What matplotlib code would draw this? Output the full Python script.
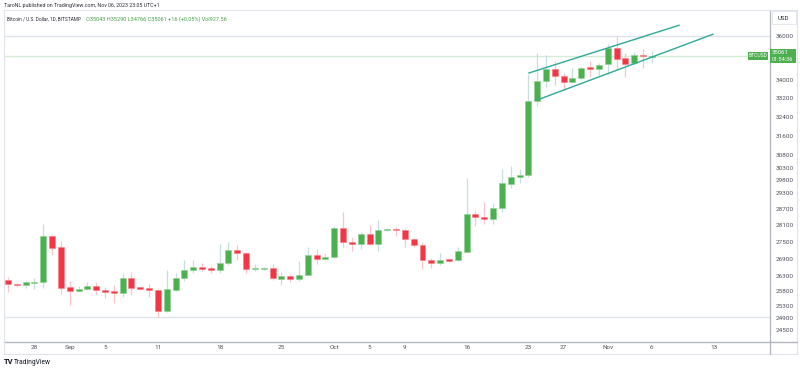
import numpy as np
import pandas as pd
import matplotlib
matplotlib.use("Agg")
import matplotlib.pyplot as plt
import matplotlib.dates as mdates
from matplotlib.lines import Line2D
from matplotlib.patches import Rectangle
from matplotlib.ticker import FixedLocator, FuncFormatter, NullLocator

plt.rcParams['font.family'] = ['Roboto', 'DejaVu Sans']

# ---------------- data ----------------
start_date = "2023-08-25"
opens = [26157, 26029, 25988, 26063, 26088, 27719, 27302, 25909, 25794, 25841,
         25953, 25817, 25774, 25727, 26236, 25909, 25885, 25827, 25127, 25817,
         26215, 26502, 26596, 26560, 26513, 26746, 27206, 27110, 26537, 26548,
         26572, 26202, 26285, 26181, 26340, 27017, 26897, 26946, 27988, 27503,
         27409, 27781, 27409, 27936, 27962, 27936, 27590, 27384, 26862, 26736,
         26876, 26841, 27145, 28518, 28405, 28319, 28731, 29672, 29921, 30011,
         33076, 33928, 34492, 34150, 33897, 34088, 34569, 34492, 34692, 35440,
         34964, 34736, 35130, 35043]
highs = [26271, 26070, 26133, 26215, 28136, 27740, 27526, 26123, 25963, 26098,
         26088, 25930, 25987, 26410, 26433, 25930, 26018, 25861, 26502, 26388,
         26852, 26852, 26736, 26641, 27420, 27481, 27384, 27134, 26711, 26617,
         26711, 26444, 26364, 26827, 27302, 27231, 27088, 28073, 28593, 27661,
         27865, 28123, 28295, 28010, 28025, 27962, 27646, 27481, 26911, 27088,
         26911, 27302, 29893, 28641, 28981, 28920, 30237, 30379, 30237, 34254,
         35194, 35130, 34830, 34285, 34510, 34582, 34857, 34765, 35625, 36000,
         35194, 35268, 35394, 35290]
lows = [25760, 25936, 25885, 25851, 25896, 27027, 25693, 25315, 25750, 25817,
        25638, 25538, 25372, 25592, 25649, 25841, 25592, 24911, 25100, 25784,
        26133, 26410, 26478, 26410, 26388, 26676, 26852, 26388, 26478, 26502,
        26157, 25987, 26098, 26133, 26319, 26711, 26876, 26911, 27323, 27170,
        27231, 27384, 27181, 27899, 27719, 27302, 27323, 26527, 26560, 26676,
        26792, 26816, 27145, 28084, 28147, 28147, 28602, 29493, 29687, 29944,
        32848, 33688, 33763, 33545, 33866, 33986, 34106, 34133, 34209, 34435,
        34133, 34660, 34510, 34766]
closes = [26018, 25988, 26077, 26098, 27719, 27287, 25896, 25774, 25851, 25953,
          25807, 25760, 25727, 26236, 25896, 25851, 25817, 25127, 25841, 26215,
          26513, 26596, 26537, 26502, 26757, 27195, 27110, 26548, 26582, 26572,
          26226, 26285, 26181, 26340, 27017, 26886, 26946, 27988, 27481, 27430,
          27781, 27409, 27936, 27973, 27914, 27590, 27384, 26852, 26736, 26862,
          26827, 27170, 28518, 28394, 28319, 28731, 29687, 29921, 30023, 33076,
          33928, 34492, 34164, 33911, 34088, 34537, 34492, 34660, 35440, 34932,
          34717, 35102, 35056, 35061]

ytick_values = [36000, 34000, 33200, 32400, 31600, 30800, 30300, 29800, 29300,
                28700, 28100, 27500, 26900, 26300, 25800, 25300, 24900, 24500]
xtick_dates = ["2023-08-28", "2023-09-01", "2023-09-05", "2023-09-11", "2023-09-18",
               "2023-09-25", "2023-10-01", "2023-10-05", "2023-10-09", "2023-10-16",
               "2023-10-23", "2023-10-27", "2023-11-01", "2023-11-06", "2023-11-13"]
xtick_labels = ["28", "Sep", "5", "11", "18", "25", "Oct", "5", "9", "16",
                "23", "27", "Nov", "6", "13"]

# drawings (trend channel + horizontal levels)
channel_upper_dates = ["2023-10-23 00:00", "2023-11-09 04:00"]
channel_upper_prices = [34290, 36520]
channel_lower_dates = ["2023-10-24 00:00", "2023-11-13 00:00"]
channel_lower_prices = [33107, 36094]
hline_levels = [36000, 24920]
last_price = 35061

title_line = "TaroNL published on TradingView.com, Nov 06, 2023 23:05 UTC+1"
legend_name = "Bitcoin / U.S. Dollar, 1D, BITSTAMP"
legend_vals = "O35043 H35290 L34766 C35061 +16 (+0.05%) Vol927.56"

# ---------------- figure ----------------
W, H = 800, 370
fig = plt.figure(figsize=(W / 100, H / 100), dpi=100)
fig.patch.set_facecolor("white")

def fx(px):
    return px / W

def fy(py):
    return 1 - py / H

ax_left, ax_right, ax_top, ax_bottom = 4, 770, 10, 342
ax = fig.add_axes([fx(ax_left), fy(ax_bottom), fx(ax_right - ax_left),
                   (ax_bottom - ax_top) / H])
ax.set_facecolor("white")

dates = pd.date_range(start_date, periods=len(opens), freq="D")
xd = mdates.date2num(dates)
o = np.array(opens, float)
h = np.array(highs, float)
l = np.array(lows, float)
c = np.array(closes, float)
up = c >= o

green = "#4caf50"
red = "#f23645"
green_wick = "#c5dfe0"
red_wick = "#f9c5ca"

ax.set_yscale("log")
ax.set_ylim(24120, 37246)
ax.set_xlim(xd[0] - 0.45, xd[0] + 86.4)

for lvl in hline_levels:
    ax.axhline(lvl, color="#e0e3eb", lw=1.0, zorder=1)
ax.plot([ax.get_xlim()[0], xd[0] + 84.0], [last_price, last_price],
        color="#d4ecd5", lw=1.0, zorder=1)

ax.vlines(xd[up], l[up], h[up], color=green_wick, lw=0.9, zorder=2)
ax.vlines(xd[~up], l[~up], h[~up], color=red_wick, lw=0.9, zorder=2)

bw = 0.68
for xi, oi, ci, u in zip(xd, o, c, up):
    lo, hi = min(oi, ci), max(oi, ci)
    if hi / lo < 1.0012:
        mid = np.sqrt(lo * hi)
        lo, hi = mid / 1.0006, mid * 1.0006
    ax.add_patch(Rectangle((xi - bw / 2, lo), bw, hi - lo,
                           facecolor=green if u else red,
                           edgecolor="#8fd093" if u else "#f87c87",
                           lw=0.4, zorder=3))

teal = "#2ea897"
ax.plot(mdates.date2num(pd.to_datetime(channel_upper_dates)), channel_upper_prices,
        color=teal, lw=1.0, zorder=4, solid_capstyle="butt")
ax.plot(mdates.date2num(pd.to_datetime(channel_lower_dates)), channel_lower_prices,
        color=teal, lw=1.0, zorder=4, solid_capstyle="butt")

for s in ["top", "left"]:
    ax.spines[s].set_visible(False)
ax.spines["right"].set_color("#b2b5be")
ax.spines["right"].set_linewidth(0.9)
ax.spines["bottom"].set_color("#b2b5be")
ax.spines["bottom"].set_linewidth(1.0)

ax.yaxis.tick_right()
ax.yaxis.set_major_locator(FixedLocator(ytick_values))
ax.yaxis.set_minor_locator(NullLocator())
ax.yaxis.set_major_formatter(FuncFormatter(lambda v, p: f"{int(round(v))}"))
ax.tick_params(axis="y", which="both", length=0, pad=4.3, labelsize=4.6,
               labelcolor="#50535e")

ax.set_xticks(mdates.date2num(pd.to_datetime(xtick_dates)))
ax.set_xticklabels(xtick_labels)
ax.tick_params(axis="x", length=0, pad=2.5, labelsize=4.6, labelcolor="#50535e")

frame_col = "#e0e3eb"
fig.add_artist(Line2D([fx(4), fx(4)], [fy(10), fy(354)], color=frame_col, lw=0.8))
fig.add_artist(Line2D([fx(4), fx(797)], [fy(354), fy(354)], color=frame_col, lw=0.8))
fig.add_artist(Line2D([fx(797), fx(797)], [fy(10), fy(354)], color=frame_col, lw=0.8))
fig.add_artist(Line2D([fx(4), fx(797)], [fy(10), fy(10)], color=frame_col, lw=0.8))
fig.add_artist(Line2D([fx(770), fx(770)], [fy(342), fy(354)], color="#b2b5be", lw=0.9))
fig.add_artist(Line2D([fx(770), fx(797)], [fy(342), fy(342)], color="#b2b5be", lw=1.0))

fig.text(fx(3.5), fy(5.5), title_line, fontsize=3.75, color="#2a2e39", va="center", ha="left")
fig.text(fx(7), fy(19), legend_name, fontsize=3.45, color="#2a2e39",
         va="center", ha="left")
fig.text(fx(85.5), fy(19), legend_vals, fontsize=4.0, color="#43a047",
         va="center", ha="left")

fig.patches.append(Rectangle((fx(772), fy(24)), fx(24), 13 / H, transform=fig.transFigure,
                             facecolor="white", edgecolor="#e0e3eb", lw=0.6))
fig.text(fx(778), fy(18), "USD", fontsize=4.4, color="#2a2e39", va="center", ha="left")

fig.patches.append(Rectangle((fx(770), fy(63)), fx(26), 14 / H, transform=fig.transFigure,
                             facecolor="#4caf50", edgecolor="none"))
fig.text(fx(772), fy(52.5), f"{last_price}", fontsize=4.3, color="white",
         va="center", ha="left")
fig.text(fx(772), fy(59.5), "01:54:36", fontsize=4.0, color="white",
         va="center", ha="left")
fig.patches.append(Rectangle((fx(748), fy(59.5)), fx(20), 8 / H, transform=fig.transFigure,
                             facecolor="#4caf50", edgecolor="none"))
fig.text(fx(758), fy(55.5), "BTCUSD", fontsize=3.6, color="white",
         va="center", ha="center")

fig.text(fx(4), fy(362), "TV", fontsize=5.5, color="#131722", fontweight="bold",
         va="center", ha="left")
fig.text(fx(14), fy(362), "TradingView", fontsize=4.8, color="#131722",
         va="center", ha="left")

fig.savefig("out.png", dpi=100, facecolor="white")
